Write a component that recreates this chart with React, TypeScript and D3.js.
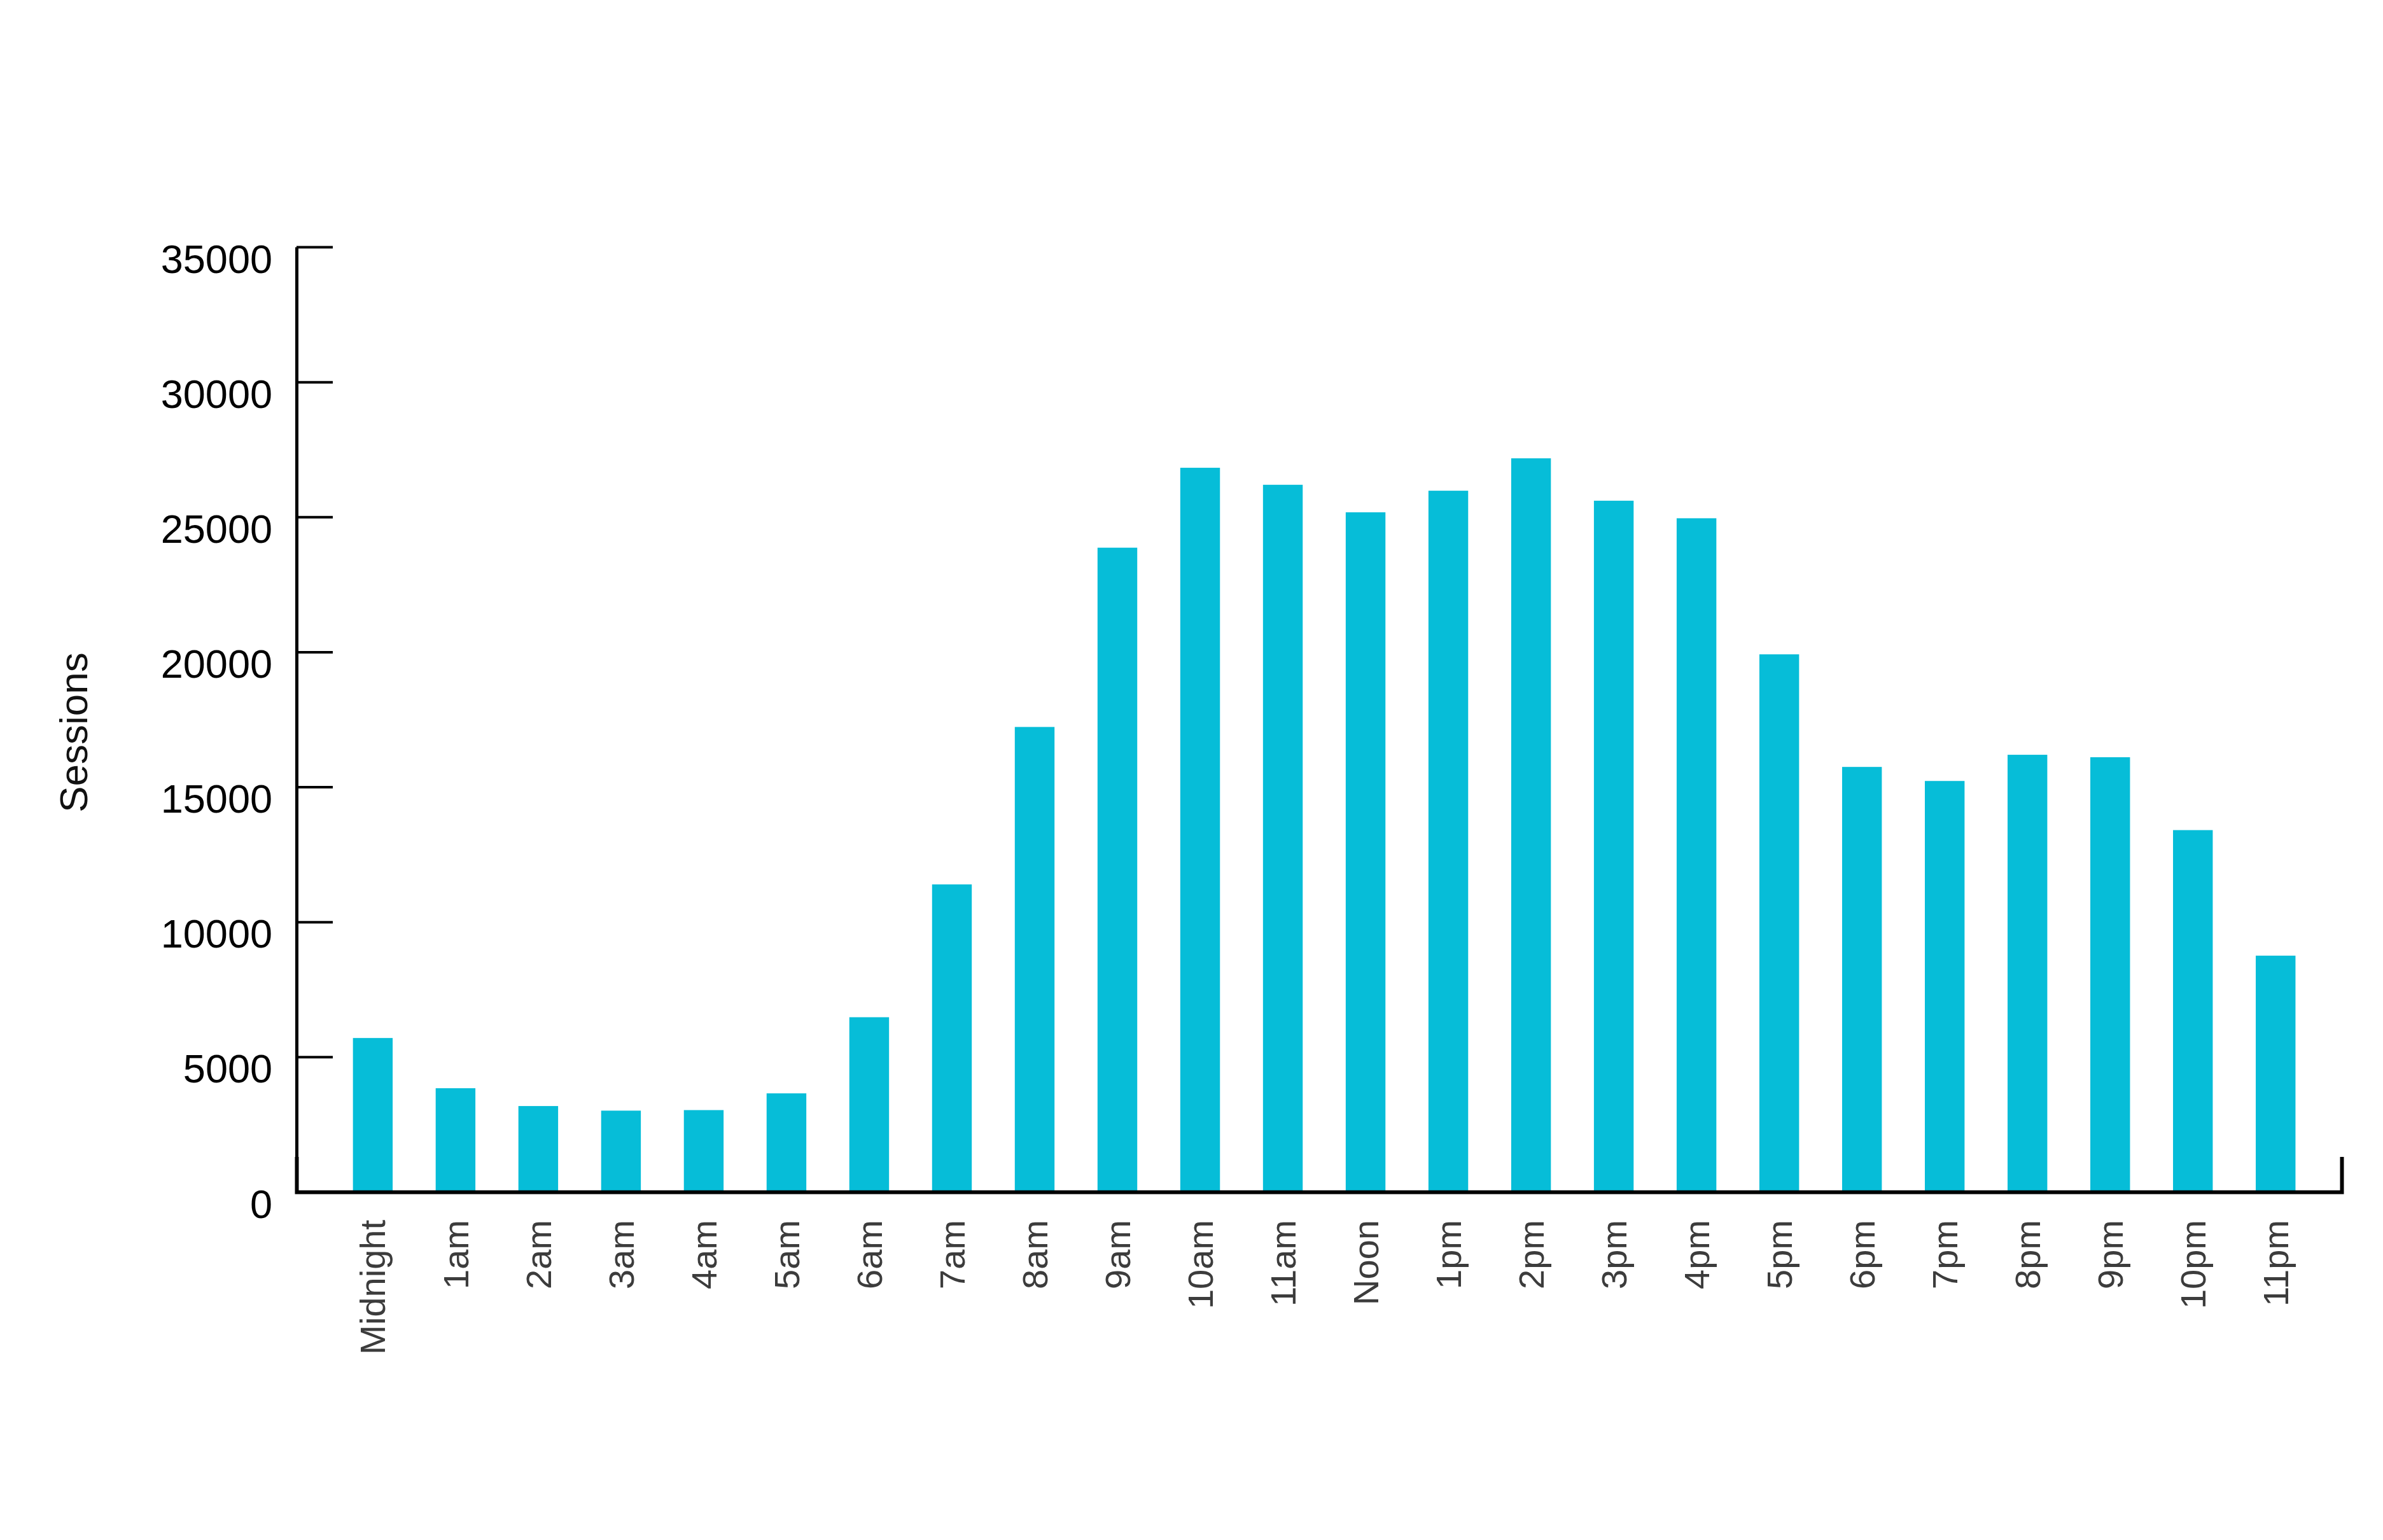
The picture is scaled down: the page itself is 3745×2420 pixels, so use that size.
import { useEffect, useRef } from "react";
import * as d3 from "d3";

const hours = [
  "Midnight", "1am", "2am", "3am", "4am", "5am", "6am", "7am", "8am", "9am", "10am", "11am",
  "Noon", "1pm", "2pm", "3pm", "4pm", "5pm", "6pm", "7pm", "8pm", "9pm", "10pm", "11pm",
];
const sessions = [
  5700, 3840, 3180, 3010, 3030, 3650, 6470, 11390, 17220, 23860, 26820, 26190,
  25170, 25970, 27170, 25600, 24950, 19910, 15740, 15220, 16190, 16100, 13400, 8750,
];
const yTicks = [0, 5000, 10000, 15000, 20000, 25000, 30000, 35000];

export default function App() {
  const svgRef = useRef<SVGSVGElement>(null);

  useEffect(() => {
    if (!svgRef.current) return;
    const width = 3745;
    const height = 2420;
    const left = 466;
    const right = 3680;
    const top = 388;
    const bottom = 1873;
    const font = "'Liberation Sans', Arial, Helvetica, sans-serif";

    const svg = d3.select(svgRef.current);
    svg.selectAll("*").remove();
    svg.attr("viewBox", `0 0 ${width} ${height}`);

    const data = hours.map((h, i) => ({ hour: h, value: sessions[i] }));

    const x = d3.scaleBand()
      .domain(hours)
      .range([left, right])
      .paddingInner(0.52)
      .paddingOuter(0.62)
      .align(0.55);

    const y = d3.scaleLinear()
      .domain([0, 35000])
      .range([bottom, top]);

    // bars
    svg.append("g")
      .selectAll("rect")
      .data(data)
      .join("rect")
      .attr("x", d => x(d.hour)!)
      .attr("y", d => y(d.value))
      .attr("width", x.bandwidth())
      .attr("height", d => y(0) - y(d.value))
      .attr("fill", "#06bdd8");

    // y axis, ticks pointing inward
    svg.append("g")
      .attr("transform", `translate(${left},0)`)
      .call(d3.axisLeft(y).tickValues(yTicks).tickSizeInner(-57).tickSizeOuter(0).tickPadding(38).tickFormat(d => String(d)))
      .call(g => g.select(".domain").attr("stroke", "#000").attr("stroke-width", 5))
      .call(g => g.selectAll(".tick line").attr("stroke", "#000").attr("stroke-width", 4))
      .call(g => g.selectAll(".tick text")
        .attr("dy", null)
        .attr("y", 40)
        .attr("fill", "#000")
        .attr("font-family", font)
        .attr("font-size", 63));

    // x axis with a short upward tick at the right end
    svg.append("g")
      .attr("transform", `translate(0,${bottom})`)
      .call(d3.axisBottom(x).tickSizeInner(0).tickSizeOuter(-55))
      .call(g => g.select(".domain").attr("stroke", "#000").attr("stroke-width", 6).attr("fill", "none"))
      .call(g => g.selectAll(".tick text")
        .attr("transform", "rotate(-90)")
        .attr("text-anchor", "end")
        .attr("x", -44)
        .attr("y", 0)
        .attr("dy", "0.35em")
        .attr("fill", "#3c3c3c")
        .attr("font-family", font)
        .attr("font-size", 56));

    // y axis title
    svg.append("text")
      .attr("transform", "translate(137,1151) rotate(-90)")
      .attr("text-anchor", "middle")
      .attr("fill", "#111")
      .attr("font-family", font)
      .attr("font-size", 62)
      .text("Sessions");
  }, []);

  return (
    <svg
      ref={svgRef}
      width={3745}
      height={2420}
      style={{ position: "absolute", left: 0, top: 0, background: "#fff" }}
    />
  );
}
